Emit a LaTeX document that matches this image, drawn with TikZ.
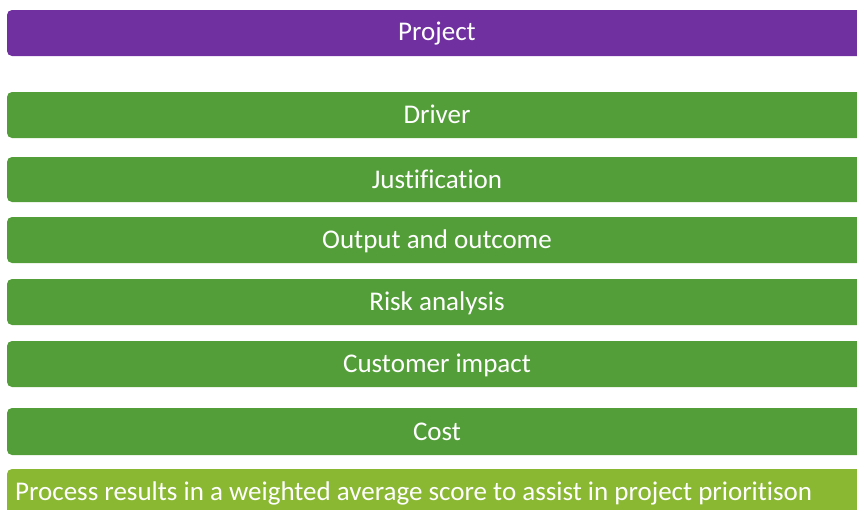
\documentclass[tikz,border=0pt]{standalone}
\usepackage{fontspec}
\setmainfont{Carlito}[Ligatures=NoCommon]
\definecolor{projpurple}{HTML}{7030A0}
\definecolor{bargreen}{HTML}{549E39}
\definecolor{lightgreen}{HTML}{8AB833}
\begin{document}
\begin{tikzpicture}[x=1pt,y=-1pt,
  bar/.style={fill=bargreen, rounded corners=5pt, draw=none},
  bartext/.style={text=white, font=\fontsize{27}{32}\selectfont, anchor=base, inner sep=0pt},
]
\useasboundingbox (0,0) rectangle (857,509);
\clip (0,0) rectangle (857,509);
\fill[projpurple, rounded corners=5pt] (7,10) rectangle (867,56);
\node[bartext] (project) at (437,40.5) {Project};
\fill[bar] (7,92) rectangle (867,138);
\node[bartext] (driver) at (437,123.5) {Driver};
\fill[bar] (7,157) rectangle (867,202);
\node[bartext] (just) at (437,188) {Justification};
\fill[bar] (7,217) rectangle (867,263);
\node[bartext] (output) at (437,248.5) {Output and outcome};
\fill[bar] (7,279) rectangle (867,325);
\node[bartext] (risk) at (437,310.5) {Risk analysis};
\fill[bar] (7,341) rectangle (867,387);
\node[bartext] (cust) at (437,372.5) {Customer impact};
\fill[bar] (7,408) rectangle (867,455);
\node[bartext] (cost) at (437,440) {Cost};
\fill[lightgreen, rounded corners=5pt] (7,469) rectangle (867,530);
\node[text=white, font=\fontsize{27}{32}\selectfont, anchor=base west, inner sep=0pt] (caption) at (15,500.5) {Process results in a weighted average score to assist in project prioritison};
\end{tikzpicture}
\end{document}
